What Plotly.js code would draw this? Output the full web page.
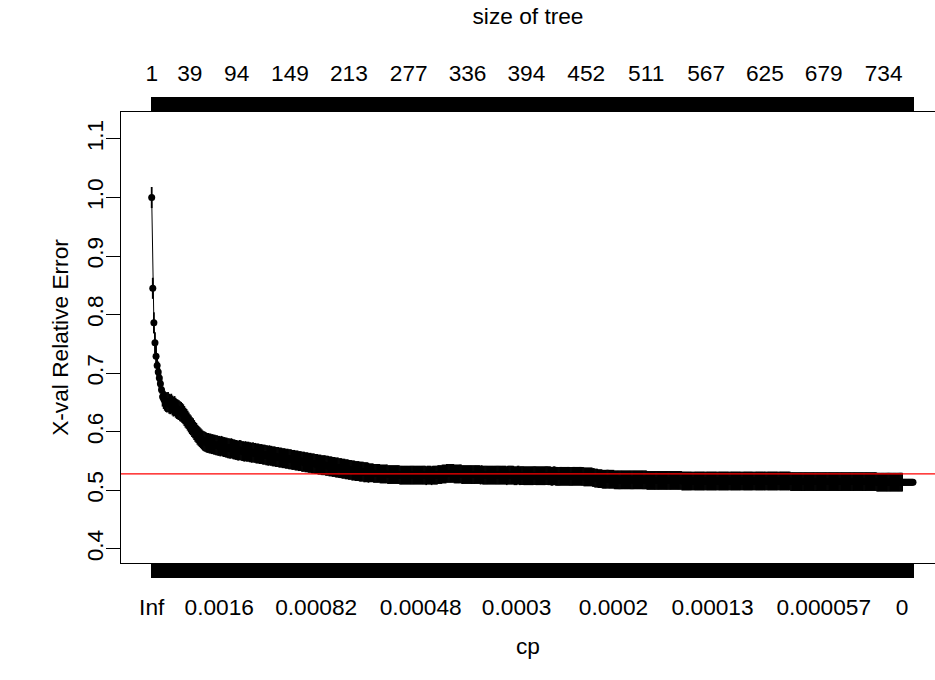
<!DOCTYPE html>
<html>
<head>
<meta charset="utf-8">
<script src="https://cdn.plot.ly/plotly-3.0.1.min.js"></script>
<style>html,body{margin:0;padding:0;background:#fff;}#chart{width:935px;height:680px;}</style>
</head>
<body>
<div id="chart"></div>
<script>
// Cross-validated relative error for each cp row (index 1..N)
const xerror = [
1.000,0.845,0.786,0.752,0.729,0.713,0.702,0.692,0.682,0.672,
0.660,0.656,0.653,0.651,0.650,0.651,0.648,0.647,0.648,0.645,
0.643,0.644,0.641,0.639,0.638,0.637,0.635,0.634,0.632,0.630,
0.627,0.624,0.622,0.619,0.616,0.613,0.611,0.608,0.606,0.603,
0.600,0.598,0.595,0.593,0.591,0.589,0.587,0.585,0.584,0.583,
0.582,0.581,0.581,0.580,0.580,0.579,0.579,0.578,0.578,0.577,
0.577,0.576,0.576,0.575,0.576,0.575,0.574,0.574,0.573,0.573,
0.572,0.572,0.571,0.572,0.571,0.570,0.570,0.569,0.569,0.568,
0.568,0.569,0.568,0.567,0.567,0.566,0.567,0.566,0.566,0.566,
0.565,0.565,0.564,0.565,0.564,0.564,0.563,0.563,0.563,0.562,
0.562,0.562,0.561,0.561,0.561,0.560,0.560,0.559,0.560,0.559,
0.559,0.558,0.558,0.558,0.557,0.557,0.557,0.556,0.556,0.556,
0.555,0.555,0.555,0.554,0.554,0.554,0.553,0.553,0.553,0.552,
0.552,0.552,0.551,0.551,0.551,0.550,0.550,0.550,0.549,0.549,
0.549,0.548,0.548,0.548,0.547,0.547,0.547,0.546,0.546,0.546,
0.545,0.545,0.545,0.544,0.544,0.544,0.543,0.543,0.543,0.543,
0.542,0.542,0.542,0.541,0.541,0.541,0.540,0.540,0.540,0.539,
0.539,0.539,0.538,0.538,0.538,0.537,0.537,0.537,0.536,0.536,
0.536,0.535,0.535,0.535,0.534,0.534,0.534,0.533,0.533,0.533,
0.533,0.532,0.532,0.532,0.532,0.531,0.531,0.531,0.531,0.530,
0.530,0.530,0.530,0.530,0.529,0.529,0.529,0.529,0.529,0.529,
0.528,0.528,0.528,0.528,0.528,0.528,0.528,0.527,0.527,0.527,
0.527,0.527,0.527,0.527,0.527,0.527,0.527,0.527,0.526,0.526,
0.526,0.526,0.526,0.526,0.526,0.526,0.526,0.526,0.526,0.526,
0.526,0.526,0.526,0.526,0.526,0.526,0.526,0.526,0.526,0.526,
0.526,0.526,0.525,0.526,0.526,0.526,0.526,0.525,0.526,0.526,
0.526,0.526,0.526,0.527,0.527,0.527,0.527,0.528,0.528,0.528,
0.528,0.529,0.529,0.529,0.529,0.529,0.529,0.529,0.528,0.528,
0.528,0.528,0.528,0.528,0.528,0.527,0.527,0.527,0.527,0.527,
0.527,0.527,0.527,0.527,0.527,0.527,0.527,0.527,0.527,0.527,
0.527,0.527,0.526,0.527,0.526,0.526,0.526,0.526,0.526,0.526,
0.526,0.526,0.526,0.526,0.526,0.526,0.526,0.526,0.526,0.526,
0.526,0.526,0.526,0.526,0.526,0.526,0.525,0.526,0.526,0.526,
0.526,0.526,0.526,0.525,0.525,0.525,0.526,0.526,0.525,0.525,
0.525,0.525,0.525,0.525,0.525,0.525,0.525,0.525,0.525,0.525,
0.525,0.525,0.525,0.525,0.525,0.525,0.525,0.525,0.525,0.525,
0.525,0.525,0.525,0.525,0.525,0.525,0.525,0.524,0.524,0.525,
0.525,0.524,0.524,0.524,0.524,0.524,0.524,0.524,0.524,0.524,
0.524,0.524,0.524,0.524,0.524,0.524,0.524,0.524,0.524,0.524,
0.524,0.524,0.524,0.524,0.524,0.524,0.524,0.523,0.523,0.523,
0.523,0.523,0.523,0.523,0.523,0.522,0.522,0.521,0.521,0.521,
0.520,0.520,0.520,0.520,0.519,0.519,0.519,0.519,0.519,0.519,
0.519,0.519,0.519,0.519,0.519,0.518,0.518,0.518,0.518,0.518,
0.518,0.518,0.518,0.518,0.518,0.518,0.518,0.518,0.518,0.518,
0.518,0.518,0.518,0.518,0.518,0.518,0.518,0.518,0.518,0.518,
0.518,0.518,0.518,0.518,0.518,0.517,0.517,0.517,0.517,0.517,
0.517,0.517,0.517,0.517,0.517,0.517,0.517,0.517,0.517,0.517,
0.517,0.517,0.517,0.517,0.517,0.517,0.517,0.517,0.517,0.517,
0.517,0.517,0.517,0.517,0.517,0.517,0.517,0.516,0.516,0.516,
0.516,0.516,0.516,0.516,0.516,0.516,0.516,0.516,0.516,0.516,
0.516,0.516,0.516,0.516,0.516,0.516,0.516,0.516,0.516,0.516,
0.516,0.516,0.516,0.516,0.516,0.516,0.516,0.516,0.516,0.516,
0.516,0.516,0.516,0.516,0.516,0.516,0.516,0.516,0.516,0.516,
0.516,0.516,0.516,0.516,0.516,0.516,0.516,0.516,0.516,0.516,
0.516,0.516,0.516,0.516,0.516,0.516,0.516,0.516,0.516,0.516,
0.516,0.516,0.516,0.516,0.516,0.516,0.516,0.516,0.516,0.516,
0.516,0.516,0.516,0.516,0.516,0.516,0.516,0.516,0.516,0.516,
0.516,0.516,0.516,0.516,0.516,0.516,0.516,0.516,0.516,0.516,
0.516,0.516,0.516,0.516,0.516,0.516,0.516,0.515,0.515,0.515,
0.515,0.515,0.515,0.515,0.515,0.515,0.515,0.515,0.515,0.515,
0.515,0.515,0.515,0.515,0.515,0.515,0.515,0.515,0.515,0.515,
0.515,0.515,0.515,0.515,0.515,0.515,0.515,0.515,0.515,0.515,
0.515,0.515,0.515,0.515,0.515,0.515,0.515,0.515,0.515,0.515,
0.515,0.515,0.515,0.515,0.515,0.515,0.515,0.515,0.515,0.515,
0.515,0.515,0.515,0.515,0.515,0.515,0.515,0.515,0.515,0.515,
0.515,0.515,0.515,0.515,0.515,0.515,0.515,0.515,0.515,0.515,
0.515,0.515,0.515,0.515,0.515,0.515,0.514,0.514,0.514,0.514,
0.514,0.514,0.514,0.514,0.514,0.514,0.514,0.514,0.514,0.514,
0.514,0.514,0.514,0.514,0.514,0.514,0.514,0.514,0.514,0.514,
0.514,0.514,0.514,0.514,0.514,0.514,0.514,0.514,0.514,0.514
];
// Standard error of xerror (error bar half-length) for each cp row
const xstd = [
0.018,0.018,0.018,0.018,0.018,0.018,0.018,0.017,0.017,0.017,
0.017,0.017,0.017,0.017,0.017,0.017,0.017,0.017,0.017,0.017,
0.017,0.017,0.017,0.017,0.017,0.017,0.017,0.017,0.017,0.017,
0.017,0.017,0.017,0.017,0.017,0.017,0.017,0.017,0.017,0.017,
0.017,0.017,0.017,0.017,0.017,0.017,0.017,0.017,0.017,0.017,
0.017,0.017,0.017,0.017,0.017,0.017,0.017,0.017,0.017,0.017,
0.017,0.017,0.017,0.017,0.017,0.017,0.017,0.017,0.017,0.017,
0.017,0.017,0.017,0.017,0.017,0.017,0.017,0.017,0.017,0.017,
0.017,0.017,0.017,0.017,0.017,0.017,0.017,0.017,0.017,0.017,
0.017,0.017,0.017,0.017,0.017,0.017,0.017,0.017,0.017,0.017,
0.017,0.017,0.017,0.017,0.017,0.017,0.017,0.017,0.017,0.017,
0.017,0.017,0.017,0.017,0.017,0.017,0.017,0.017,0.017,0.017,
0.017,0.017,0.017,0.017,0.017,0.017,0.017,0.017,0.017,0.017,
0.017,0.017,0.017,0.017,0.017,0.017,0.017,0.017,0.017,0.017,
0.017,0.017,0.017,0.017,0.017,0.017,0.017,0.017,0.017,0.017,
0.017,0.017,0.017,0.017,0.017,0.017,0.017,0.017,0.017,0.017,
0.017,0.017,0.017,0.017,0.017,0.017,0.017,0.017,0.017,0.017,
0.017,0.017,0.017,0.017,0.017,0.017,0.017,0.017,0.017,0.017,
0.017,0.017,0.017,0.017,0.017,0.017,0.017,0.017,0.017,0.017,
0.017,0.017,0.017,0.017,0.017,0.017,0.017,0.017,0.017,0.017,
0.016,0.016,0.016,0.016,0.016,0.016,0.016,0.016,0.016,0.016,
0.016,0.016,0.016,0.016,0.016,0.016,0.016,0.016,0.016,0.016,
0.016,0.016,0.016,0.016,0.016,0.016,0.016,0.016,0.016,0.016,
0.016,0.016,0.016,0.016,0.016,0.016,0.016,0.016,0.016,0.016,
0.016,0.016,0.016,0.016,0.016,0.016,0.016,0.016,0.016,0.016,
0.016,0.016,0.016,0.016,0.016,0.016,0.016,0.016,0.016,0.016,
0.016,0.016,0.016,0.016,0.016,0.016,0.016,0.016,0.016,0.016,
0.016,0.016,0.016,0.016,0.016,0.016,0.016,0.016,0.016,0.016,
0.016,0.016,0.016,0.016,0.016,0.016,0.016,0.016,0.016,0.016,
0.016,0.016,0.016,0.016,0.016,0.016,0.016,0.016,0.016,0.016,
0.016,0.016,0.016,0.016,0.016,0.016,0.016,0.016,0.016,0.016,
0.016,0.016,0.016,0.016,0.016,0.016,0.016,0.016,0.016,0.016,
0.016,0.016,0.016,0.016,0.016,0.016,0.016,0.016,0.016,0.016,
0.016,0.016,0.016,0.016,0.016,0.016,0.016,0.016,0.016,0.016,
0.016,0.016,0.016,0.016,0.016,0.016,0.016,0.016,0.016,0.016,
0.016,0.016,0.016,0.016,0.016,0.016,0.016,0.016,0.016,0.016,
0.016,0.016,0.016,0.016,0.016,0.016,0.016,0.016,0.016,0.016,
0.016,0.016,0.016,0.016,0.016,0.016,0.016,0.016,0.016,0.016,
0.016,0.016,0.016,0.016,0.016,0.016,0.016,0.016,0.016,0.016,
0.016,0.016,0.016,0.016,0.016,0.016,0.016,0.016,0.016,0.016,
0.016,0.016,0.016,0.016,0.016,0.016,0.016,0.016,0.016,0.016,
0.016,0.016,0.016,0.016,0.016,0.016,0.016,0.016,0.016,0.016,
0.016,0.016,0.016,0.016,0.016,0.016,0.016,0.016,0.016,0.016,
0.016,0.016,0.016,0.016,0.016,0.016,0.016,0.016,0.016,0.016,
0.016,0.016,0.016,0.016,0.016,0.016,0.016,0.016,0.016,0.016,
0.016,0.016,0.016,0.016,0.016,0.016,0.016,0.016,0.016,0.016,
0.016,0.016,0.016,0.016,0.016,0.016,0.016,0.016,0.016,0.016,
0.016,0.016,0.016,0.016,0.016,0.016,0.016,0.016,0.016,0.016,
0.016,0.016,0.016,0.016,0.016,0.016,0.016,0.016,0.016,0.016,
0.016,0.016,0.016,0.016,0.016,0.016,0.016,0.016,0.016,0.016,
0.016,0.016,0.016,0.016,0.016,0.016,0.016,0.016,0.016,0.016,
0.016,0.016,0.016,0.016,0.016,0.016,0.016,0.016,0.016,0.016,
0.016,0.016,0.016,0.016,0.016,0.016,0.016,0.016,0.016,0.016,
0.016,0.016,0.016,0.016,0.016,0.016,0.016,0.016,0.016,0.016,
0.016,0.016,0.016,0.016,0.016,0.016,0.016,0.016,0.016,0.016,
0.016,0.016,0.016,0.016,0.016,0.016,0.016,0.016,0.016,0.016,
0.016,0.016,0.016,0.016,0.016,0.016,0.016,0.016,0.016,0.016,
0.016,0.016,0.016,0.016,0.016,0.016,0.016,0.016,0.016,0.016,
0.016,0.016,0.016,0.016,0.016,0.016,0.016,0.016,0.016,0.016,
0.016,0.016,0.016,0.016,0.016,0.016,0.016,0.016,0.016,0.016,
0.016,0.016,0.016,0.016,0.016,0.016,0.016,0.016,0.016,0.016,
0.016,0.016,0.016,0.016,0.016,0.016,0.016,0.016,0.016,0.016,
0.016,0.016,0.016,0.016,0.016,0.016,0.016,0.016,0.016,0.016,
0.016,0.016,0.016,0.016,0.016,0.016,0.016,0.016,0.016,0.016,
0.016,0.016,0.016,0.016,0.016,0.016,0.016,0.016,0.016,0.016,
0.016,0.016,0.016,0.016,0.016,0.016,0.016,0.016,0.016,0.016,
0.016,0.016,0.016,0.016,0.016,0.016,0.016,0.016,0.016,0.016,
0.016,0.016,0.016,0.016,0.016,0.016,0.016,0.016,0.016,0.016,
0.016,0.016,0.016,0.016,0.016,0.016,0.016,0.016,0.016,0.016
];
// Top axis: size of tree labels (and the cp-row index each one sits at)
const sizeLabels   = ['1','39','94','149','213','277','336','394','452','511','567','625','679','734'];
const sizeLabelIdx = [1, 36, 79, 128, 182, 237, 291, 345, 400, 455, 510, 564, 618, 673];
// Bottom axis: cp labels (and the cp-row index each one sits at)
const cpLabels   = ['Inf','0.0016','0.00082','0.00048','0.0003','0.0002','0.00013','0.000057','0'];
const cpLabelIdx = [1, 63, 152, 248, 336, 425, 516, 618, 690];
// Y axis tick labels
const yTickVals = [0.4, 0.5, 0.6, 0.7, 0.8, 0.9, 1.0, 1.1];
const yTickText = ['0.4','0.5','0.6','0.7','0.8','0.9','1.0','1.1'];
// 1-SE reference line (min xerror + its xstd)
const seLine = 0.528;

const N = xerror.length;
const idx = xerror.map((_, i) => i + 1);
const topText = idx.map(i => { const k = sizeLabelIdx.indexOf(i); return k >= 0 ? sizeLabels[k] : ''; });
const botText = idx.map(i => { const k = cpLabelIdx.indexOf(i); return k >= 0 ? cpLabels[k] : ''; });

// layout geometry (pixels)
const W = 935, H = 680, L = 121, T = 112, B = 117;
const pFirst = 151.7, pLast = 913;
const s = (pLast - pFirst) / (N - 1);
const xRange = [1 - (pFirst - L) / s, 1 + (W - pFirst) / s];

const FONT = {family: 'Liberation Sans, Arial, Helvetica, sans-serif', size: 22.7, color: '#000'};

const xCommon = {
  range: xRange, tickmode: 'array', tickvals: idx,
  ticks: 'outside', ticklen: 14, tickwidth: 1.7, tickcolor: '#000',
  showline: true, linecolor: '#000', linewidth: 1,
  showgrid: false, zeroline: false, tickangle: 0, automargin: false,
  tickfont: FONT
};

const traces = [
  {
    x: idx, y: xerror, type: 'scatter', mode: 'lines+markers',
    line: {color: '#000', width: 1},
    marker: {color: '#000', size: 7},
    error_y: {type: 'data', array: xstd, visible: true, color: '#000', thickness: 1.8, width: 0},
    hoverinfo: 'skip', showlegend: false, cliponaxis: false
  },
  {
    x: [idx[0]], y: [xerror[0]], xaxis: 'x2', type: 'scatter', mode: 'markers',
    marker: {opacity: 0}, hoverinfo: 'skip', showlegend: false
  }
];

const layout = {
  width: W, height: H,
  margin: {l: L, r: 0, t: T, b: B, pad: 0},
  paper_bgcolor: '#fff', plot_bgcolor: '#fff',
  font: FONT,
  showlegend: false,
  xaxis: Object.assign({}, xCommon, {
    side: 'bottom', ticktext: botText, ticklabelstandoff: 10,
    title: {text: 'cp', font: FONT, standoff: 18}
  }),
  xaxis2: Object.assign({}, xCommon, {
    side: 'top', overlaying: 'x', ticktext: topText, ticklabelstandoff: 7,
    title: {text: 'size of tree', font: FONT, standoff: 28}
  }),
  yaxis: {
    range: [0.376, 1.146], tickmode: 'array', tickvals: yTickVals, ticktext: yTickText,
    ticks: 'outside', ticklen: 14, tickwidth: 1, tickcolor: '#000',
    showline: true, linecolor: '#000', linewidth: 1,
    showgrid: false, zeroline: false, tickangle: -90, automargin: false,
    tickfont: FONT, ticklabelstandoff: -6,
    title: {text: 'X-val Relative Error', font: FONT, standoff: 6}
  },
  shapes: [{
    type: 'line', xref: 'paper', x0: 0, x1: 1, yref: 'y', y0: seLine, y1: seLine,
    line: {color: '#ff0000', width: 1.3}, layer: 'above'
  }]
};

Plotly.newPlot('chart', traces, layout, {staticPlot: true, displayModeBar: false});
</script>
</body>
</html>
